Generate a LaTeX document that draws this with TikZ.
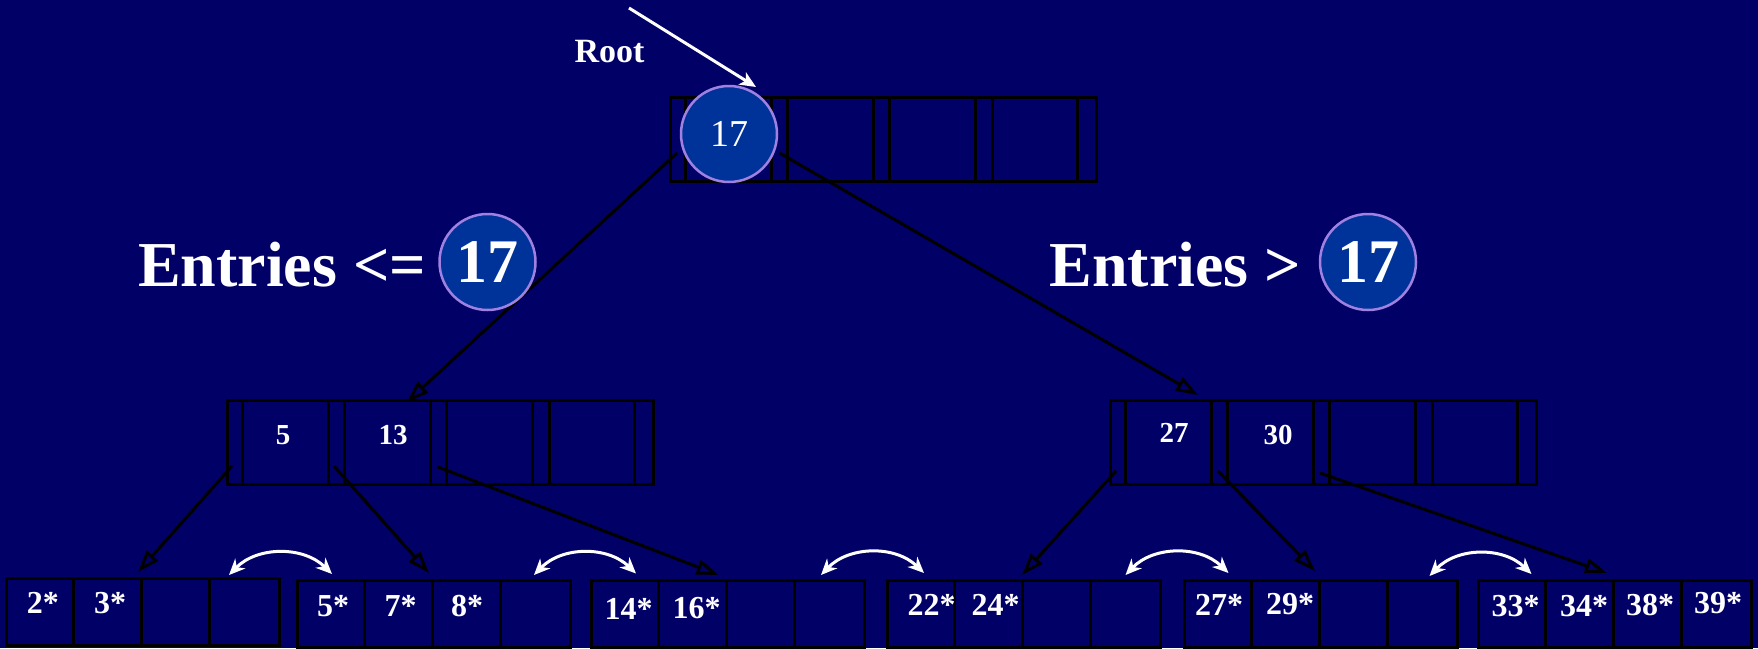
\documentclass[tikz,border=0pt]{standalone}
\usepackage{fontspec}
\setmainfont{Liberation Serif}
\usetikzlibrary{arrows.meta}
\definecolor{bg}{RGB}{0,0,102}
\definecolor{disc}{RGB}{0,51,153}
\definecolor{ring}{RGB}{160,128,224}
\newcommand{\leaffont}{\fontsize{32}{32}\selectfont\bfseries}
\newcommand{\midfont}{\fontsize{29}{29}\selectfont\bfseries}
\newcommand{\bigfont}{\fontsize{64}{64}\selectfont\bfseries}
\begin{document}
\begin{tikzpicture}[x=1pt,y=-1pt,
  box/.style={draw=black,line width=3pt,inner sep=0pt,anchor=north west},
  treenode/.style={box,minimum width=425.5pt,minimum height=84pt},
  leafnode/.style={box,minimum width=273pt,minimum height=67pt},
  leaflbl/.style={text=white,font=\leaffont,inner sep=0pt},
  midlbl/.style={text=white,font=\midfont,inner sep=0pt},
  ptr/.style={draw=black,line width=3pt,-{Triangle[open,length=22pt,width=15pt]}},
  sib/.style={draw=white,line width=3pt,{Stealth[length=16pt,width=14pt,inset=5pt]}-{Stealth[length=16pt,width=14pt,inset=5pt]}},
  keydisc/.style={circle,fill=disc,draw=ring,line width=2.5pt,minimum size=96pt,inner sep=0pt,text=white}
]
\fill[bg] (0,0) rectangle (1758,648);
\useasboundingbox (0,0) rectangle (1758,648);

% tree nodes
\node[treenode] (root) at (669,96) {};
\node[treenode] (midL) at (226,399) {};
\node[treenode] (midR) at (1109,399) {};
\foreach \n in {root,midL,midR}{
  \foreach \o in {16.5,102,118.5,204,220.5,306.5,323,408.5}{
    \draw[line width=3pt] ([xshift=\o pt]\n.north west) -- ([xshift=\o pt]\n.south west);
  }
}

% leaves
\node[leafnode] (leaf1) at (5,577) {};
\node[leafnode] (leaf2) at (296,579) {};
\node[leafnode] (leaf3) at (590,579) {};
\node[leafnode] (leaf4) at (886,579) {};
\node[leafnode] (leaf5) at (1183,579) {};
\node[leafnode] (leaf6) at (1477,579) {};
\foreach \n in {leaf1,leaf2,leaf3,leaf4,leaf5,leaf6}{
  \foreach \o in {68.25,136.5,204.75}{
    \draw[line width=3pt] ([xshift=\o pt]\n.north west) -- ([xshift=\o pt]\n.south west);
  }
}

% leaf entries
\node[leaflbl] (k2) at (43,603) {2*};
\node[leaflbl] (k3) at (110,603) {3*};
\node[leaflbl] (k5) at (333,606) {5*};
\node[leaflbl] (k7) at (400.5,606) {7*};
\node[leaflbl] (k8) at (467,606) {8*};
\node[leaflbl] (k14) at (628.5,608.5) {14*};
\node[leaflbl] (k16) at (696.5,608.5) {16*};
\node[leaflbl] (k22) at (931.5,604.5) {22*};
\node[leaflbl] (k24) at (995.5,604.5) {24*};
\node[leaflbl] (k27) at (1219,604.5) {27*};
\node[leaflbl] (k29) at (1290,604.5) {29*};
\node[leaflbl] (k33) at (1515.5,606.5) {33*};
\node[leaflbl] (k34) at (1584,606.5) {34*};
\node[leaflbl] (k38) at (1650,605) {38*};
\node[leaflbl] (k39) at (1718,603) {39*};

% internal keys
\node[midlbl] (m5) at (283,435) {5};
\node[midlbl] (m13) at (393,435) {13};
\node[midlbl] (m27) at (1174,433) {27};
\node[midlbl] (m30) at (1278,435) {30};

% pointers from root
\coordinate (r0) at (677,153);
\coordinate (r1) at (779.5,153);
\coordinate (tL) at (407,402);
\coordinate (tR) at (1198,395);
\draw[ptr] (r0) -- (tL);
\draw[ptr] (r1) -- (tR);

% pointers from internal nodes
\coordinate (a0) at (232,466);
\coordinate (a1) at (334,466);
\coordinate (a2) at (438,467);
\coordinate (b0) at (1116,471);
\coordinate (b1) at (1218,471);
\coordinate (b2) at (1320,473);
\coordinate (e1) at (138,572);
\coordinate (e2) at (429,573);
\coordinate (e3) at (718.5,575);
\coordinate (e4) at (1022,575);
\coordinate (e5) at (1315,571);
\coordinate (e6) at (1607,573);
\draw[ptr] (a0) -- (e1);
\draw[ptr] (a1) -- (e2);
\draw[ptr] (a2) -- (e3);
\draw[ptr] (b0) -- (e4);
\draw[ptr] (b1) -- (e5);
\draw[ptr] (b2) -- (e6);

% sibling links
\coordinate (s1a) at (229,575);  \coordinate (s1b) at (332,574);
\coordinate (s2a) at (534,575);  \coordinate (s2b) at (636,573.5);
\coordinate (s3a) at (821,575);  \coordinate (s3b) at (924,573);
\coordinate (s4a) at (1125.5,575); \coordinate (s4b) at (1228.5,573);
\coordinate (s5a) at (1429.5,576); \coordinate (s5b) at (1531.5,574);
\draw[sib] (s1a) to[bend left=45] (s1b);
\draw[sib] (s2a) to[bend left=45] (s2b);
\draw[sib] (s3a) to[bend left=45] (s3b);
\draw[sib] (s4a) to[bend left=45] (s4b);
\draw[sib] (s5a) to[bend left=45] (s5b);

% root key disc
\node[keydisc,font=\fontsize{38}{38}\selectfont] (rk) at (729,134) {17};

% root label and arrow
\node[text=white,font=\fontsize{34}{34}\selectfont\bfseries,inner sep=0pt,anchor=base] (rootlbl) at (609.5,62) {Root};
\coordinate (rs) at (629,8);
\coordinate (re) at (756,87);
\draw[white,line width=3pt,-{Stealth[length=16pt,width=14pt,inset=4pt]}] (rs) -- (re);

% range labels
\node[text=white,font=\bigfont,inner sep=0pt,anchor=base west] (leL) at (138,286) {Entries <=};
\node[keydisc,font=\fontsize{62}{62}\selectfont\bfseries] (cL) at (487.5,262) {17};
\node[text=white,font=\bigfont,inner sep=0pt,anchor=base west] (leR) at (1049.5,286) {Entries >};
\node[keydisc,font=\fontsize{62}{62}\selectfont\bfseries] (cR) at (1368,262) {17};
\end{tikzpicture}
\end{document}
